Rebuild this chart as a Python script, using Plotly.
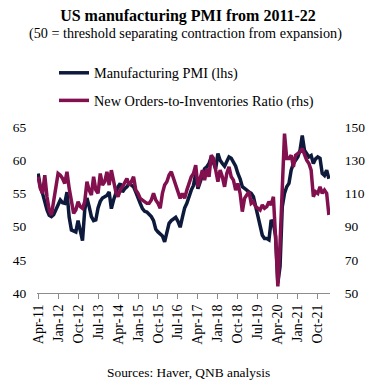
import pandas as pd
import plotly.graph_objects as go

# Monthly categories Apr-11 .. Mar-22
months = pd.date_range("2011-04-01", "2022-03-01", freq="MS").strftime("%b-%y").tolist()

pmi = [
    58.0, 56.0, 55.0, 53.5, 52.5, 51.7, 51.5, 51.8, 52.5, 53.5, 54.0, 53.6,   # Apr-11..Mar-12
    53.5, 55.2, 51.4, 49.5, 49.4, 49.2, 50.9, 49.5, 47.9, 52.5, 54.3, 53.0,   # Apr-12..Mar-13
    51.5, 50.9, 51.0, 52.8, 53.8, 54.3, 54.5, 54.7, 55.2, 52.7, 54.0, 55.0,   # Apr-13..Mar-14
    56.0, 56.5, 55.2, 55.7, 56.0, 56.5, 56.3, 56.0, 55.2, 54.2, 53.5, 52.7,   # Apr-14..Mar-15
    52.3, 52.2, 51.9, 51.5, 50.9, 49.6, 49.2, 48.9, 48.6, 47.7, 49.2, 50.5,   # Apr-15..Mar-16
    50.9, 51.2, 51.4, 50.8, 49.9, 51.4, 52.8, 53.5, 54.7, 55.5, 56.2, 58.0,   # Apr-16..Mar-17
    55.7, 56.8, 57.9, 58.7, 59.0, 59.5, 60.5, 59.5, 58.7, 61.0, 60.0, 59.5,   # Apr-17..Mar-18
    59.1, 59.8, 60.5, 60.3, 59.6, 59.1, 58.0, 57.2, 56.0, 55.8, 55.5, 55.2,   # Apr-18..Mar-19
    55.0, 54.5, 53.0, 51.5, 50.4, 48.7, 48.2, 48.2, 48.0, 51.0, 50.5, 48.5,   # Apr-19..Mar-20
    41.5, 44.0, 53.0, 55.0, 56.0, 56.5, 58.5, 59.5, 60.0, 60.5, 61.5, 63.7,   # Apr-20..Mar-21
    61.5, 61.0, 60.5, 60.7, 59.5, 60.2, 60.5, 60.3, 58.0, 57.7, 58.5, 57.2,   # Apr-21..Mar-22
]

new_orders_inv = [
    120, 113, 110, 121, 108, 100, 97, 105, 116, 122, 121, 119,
    116, 123, 113, 104, 98, 100, 105, 102, 101, 105, 117, 112,
    109, 120, 112, 110, 122, 115, 117, 123, 115, 124, 117, 111,
    108, 112, 114, 117, 119, 115, 117, 120, 112, 110, 107, 106,
    105, 104, 104, 106, 110, 106, 104, 101, 110, 115, 117, 121,
    123, 119, 115, 110, 107, 110, 107, 112, 116, 120, 122, 127,
    114, 120, 124, 118, 125, 120, 133, 131, 125, 117, 124, 120,
    114, 122, 126, 120, 118, 112, 116, 110, 99, 107, 109, 111,
    104, 105, 102, 101, 100, 103, 101, 102, 105, 103, 108, 83,
    54, 80, 115, 146, 131, 131, 133, 126, 133, 134, 135, 137,
    133, 130, 128, 124, 108, 111, 110, 114, 110, 112, 110, 97,
]

tick_labels = months[::9]

NAVY = "#0e1a3c"
MAROON = "#82104f"
SERIF = "Liberation Serif, Times New Roman, serif"

# figure sits at (8, 8) in the page because of the default body margin
W, H = 376, 377
L, R, T, B = 29, 54, 119, 92
PW, PH = W - L - R, H - T - B   # 293 x 166


def px_x(sx):
    """screen x of the reference -> paper x"""
    return (sx - 8 - L) / PW


def px_y(sy):
    """screen y of the reference -> paper y"""
    return (H - B - (sy - 8)) / PH


fig = go.Figure()
fig.add_trace(go.Scatter(
    x=months, y=pmi, name="Manufacturing PMI (lhs)", mode="lines",
    line=dict(color=NAVY, width=3.5), legendgroup="a", yaxis="y"))
fig.add_trace(go.Scatter(
    x=months, y=new_orders_inv, name="New Orders-to-Inventories Ratio (rhs)", mode="lines",
    line=dict(color=MAROON, width=3.5), legendgroup="b", yaxis="y2"))

fig.update_layout(
    width=W, height=H,
    autosize=False,
    margin=dict(l=L, r=R, t=T, b=B, autoexpand=False),
    paper_bgcolor="white", plot_bgcolor="white",
    font=dict(family=SERIF, size=13, color="black"),
    showlegend=True,
    legend=dict(
        x=px_x(54), y=px_y(57),
        xanchor="left", yanchor="top",
        font=dict(family=SERIF, size=14.3, color="black"),
        bgcolor="rgba(0,0,0,0)", tracegroupgap=6,
    ),
    title=dict(
        text="<b>US manufacturing PMI from 2011-22</b>",
        font=dict(family=SERIF, size=16, color="black"),
        x=(188 - 8) / W, xanchor="center", xref="container",
        y=1 - 2 / H, yanchor="top", yref="container",
    ),
    xaxis=dict(
        type="category", range=[-0.5, len(months) - 0.5],
        tickmode="array", tickvals=tick_labels, ticktext=tick_labels,
        tickangle=-90, ticks="outside", ticklen=5, tickcolor="#8c8c8c",
        showline=True, linecolor="#8c8c8c", linewidth=1,
        showgrid=False, zeroline=False, automargin=False,
        tickfont=dict(family=SERIF, size=14, color="black"),
    ),
    yaxis=dict(
        range=[40, 65], tickvals=[40, 45, 50, 55, 60, 65],
        showline=False, showgrid=False, zeroline=False,
        ticks="outside", ticklen=7, tickcolor="rgba(0,0,0,0)", automargin=False,
        tickfont=dict(family=SERIF, size=13.5, color="black"),
    ),
    yaxis2=dict(
        range=[50, 150], tickvals=[50, 70, 90, 110, 130, 150],
        overlaying="y", side="right", anchor="x",
        showline=False, showgrid=False, zeroline=False,
        ticks="outside", ticklen=11, tickcolor="rgba(0,0,0,0)", automargin=False,
        tickfont=dict(family=SERIF, size=13.5, color="black"),
    ),
    annotations=[
        dict(text="(50 = threshold separating contraction from expansion)",
             xref="paper", yref="paper", x=px_x(185), y=px_y(33.5),
             xanchor="center", yanchor="middle", showarrow=False,
             font=dict(family=SERIF, size=14.2, color="black")),
        dict(text="Sources: Haver, QNB analysis",
             xref="paper", yref="paper", x=px_x(188), y=px_y(372),
             xanchor="center", yanchor="middle", showarrow=False,
             font=dict(family=SERIF, size=13.4, color="black")),
    ],
)

fig.write_html("out.html")
